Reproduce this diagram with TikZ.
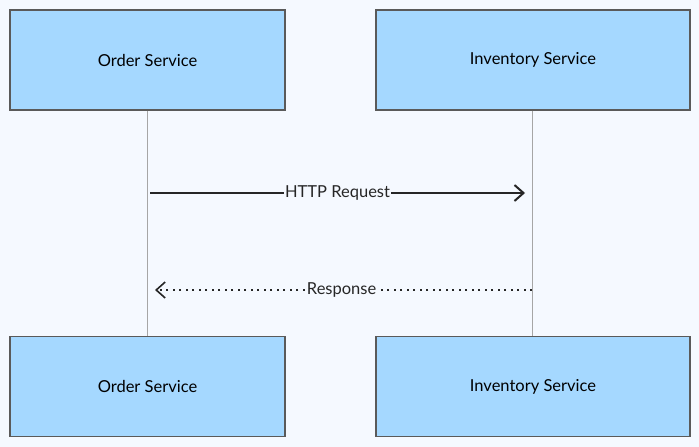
\documentclass[tikz,border=0pt]{standalone}
\usepackage{fontspec}
\setmainfont{Lato}
\usetikzlibrary{arrows.meta}
\definecolor{bg}{HTML}{F5F9FF}
\definecolor{boxfill}{HTML}{A5D8FF}
\definecolor{boxline}{HTML}{5A5A5A}
\begin{document}
\begin{tikzpicture}[x=1pt,y=-1pt,
  actor/.style={draw=boxline,line width=1.3pt,fill=boxfill,minimum width=275pt,minimum height=100pt,font=\fontsize{16.5}{19}\selectfont,inner sep=0},
  actorR/.style={actor,minimum width=314pt},
  life/.style={draw=gray!70,line width=0.6pt},
  lbl/.style={fill=bg,inner sep=1pt,font=\fontsize{16.5}{19}\selectfont,text=black!85}]
\fill[bg] (0,0) rectangle (699,447);
\useasboundingbox (0,0) rectangle (699,447);
\node[actor] (o1) at (147.5,60) {Order Service};
\node[actorR] (i1) at (533,60) {Inventory Service};
\node[actor] (o2) at (147.5,386.5) {Order Service};
\node[actorR] (i2) at (533,386.5) {Inventory Service};
\draw[life] (o1.south -| 147,0) -- (o2.north -| 147,0);
\draw[life] (i1.south -| 532,0) -- (i2.north -| 532,0);
\coordinate (a1) at (150,193); \coordinate (a2) at (525,193);
\coordinate (b1) at (532,290); \coordinate (b2) at (155,290);
\draw[line width=2.2pt,black!85,-{Straight Barb[length=9pt,width=16pt,line width=2pt]}] (a1) -- (a2) node[pos=0.5,lbl] {HTTP Request};
\draw[line width=2pt,black!85,dash pattern=on 2pt off 4.5pt,-{Straight Barb[length=9pt,width=16pt,line width=1.6pt]}] (b1) -- (b2) node[pos=0.505,lbl] {Response};
\end{tikzpicture}
\end{document}
